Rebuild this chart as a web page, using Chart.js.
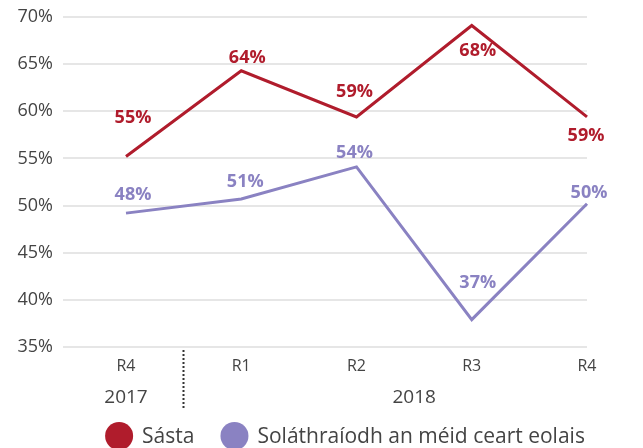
<!DOCTYPE html>
<html>
<head>
<meta charset="utf-8">
<script src="https://cdn.jsdelivr.net/npm/chart.js@4"></script>
<style>
    html, body { margin: 0; padding: 0; background: #fff; }
    #wrap { width: 643px; height: 448px; }
</style>
</head>
<body>
<div id="wrap"><canvas id="chart"></canvas></div>
<script>
// Quarters and the year each group belongs to
const QUARTERS = ['R4', 'R1', 'R2', 'R3', 'R4'];
const YEARS = [
    { label: '2017', from: 0, to: 0 },
    { label: '2018', from: 1, to: 4 }
];

const SERIES_NAMES = ['Sásta', 'Soláthraíodh an méid ceart eolais'];
const SASTA = [55.2, 64.3, 59.4, 69.1, 59.4];
const SOLATHRAIODH = [49.2, 50.7, 54.1, 37.9, 50.2];
// Printed labels, as shown on the chart
const SASTA_LABELS = [55, 64, 59, 68, 59];
const SOLATHRAIODH_LABELS = [48, 51, 54, 37, 50];

const Y_TICKS = [35, 40, 45, 50, 55, 60, 65, 70];

const RED = '#b01c2c';
const PURPLE = '#8a82c2';
const TEXT = '#444';
const FONT = "'Open Sans', 'Noto Sans', sans-serif";

// label offsets (dx, dy) from each point, per dataset
const LABEL_OFFSETS = [
    [[7, -39], [6, -13], [-2, -25], [6, 25], [-1, 19]],
    [[7, -18], [4, -17], [-2, -14], [6, -37], [2, -11]]
];

const pointLabels = {
    id: 'pointLabels',
    afterDatasetsDraw(chart) {
        const ctx = chart.ctx;
        const printed = [SASTA_LABELS, SOLATHRAIODH_LABELS];
        ctx.save();
        ctx.font = `bold 18px ${FONT}`;
        ctx.textAlign = 'center';
        ctx.textBaseline = 'middle';
        chart.data.datasets.forEach((ds, di) => {
            const meta = chart.getDatasetMeta(di);
            ctx.fillStyle = ds.borderColor;
            meta.data.forEach((pt, i) => {
                const [dx, dy] = LABEL_OFFSETS[di][i];
                ctx.fillText(printed[di][i] + '%', pt.x + dx, pt.y + dy);
            });
        });
        ctx.restore();
    }
};

const yearAxis = {
    id: 'yearAxis',
    afterDraw(chart) {
        const ctx = chart.ctx;
        const x = chart.scales.x;
        const bottom = chart.chartArea.bottom;
        ctx.save();
        ctx.font = `19px ${FONT}`;
        ctx.fillStyle = TEXT;
        ctx.textAlign = 'center';
        ctx.textBaseline = 'middle';
        YEARS.forEach(y => {
            const cx = (x.getPixelForValue(y.from) + x.getPixelForValue(y.to)) / 2;
            ctx.fillText(y.label, cx, bottom + 51);
        });
        // dotted separator between the years
        const sx = Math.round((x.getPixelForValue(0) + x.getPixelForValue(1)) / 2) - 0.5;
        ctx.strokeStyle = '#333';
        ctx.lineWidth = 2;
        ctx.setLineDash([2, 2]);
        ctx.beginPath();
        ctx.moveTo(sx, bottom + 3);
        ctx.lineTo(sx, bottom + 62);
        ctx.stroke();
        ctx.restore();
    }
};

// legend drawn by hand so the spacing matches
const bottomLegend = {
    id: 'bottomLegend',
    afterDraw(chart) {
        const ctx = chart.ctx;
        const colors = [RED, PURPLE];
        const r = 14, gap = 9, between = 26;
        ctx.save();
        ctx.font = `21px ${FONT}`;
        ctx.textBaseline = 'middle';
        const widths = SERIES_NAMES.map(n => ctx.measureText(n).width);
        const total = widths.reduce((s, w) => s + 2 * r + gap + w, 0) + between;
        let x = 345 - total / 2;
        const cy = 436;
        SERIES_NAMES.forEach((name, i) => {
            ctx.fillStyle = colors[i];
            ctx.beginPath();
            ctx.arc(x + r, cy, r, 0, Math.PI * 2);
            ctx.fill();
            ctx.fillStyle = TEXT;
            ctx.fillText(name, x + 2 * r + gap, cy + 1);
            x += 2 * r + gap + widths[i] + between;
        });
        ctx.restore();
    }
};

new Chart(document.getElementById('chart'), {
    type: 'line',
    data: {
        labels: QUARTERS,
        datasets: [
            {
                label: SERIES_NAMES[0],
                data: SASTA,
                borderColor: RED,
                backgroundColor: RED,
                borderWidth: 3,
                pointRadius: 0,
                tension: 0
            },
            {
                label: SERIES_NAMES[1],
                data: SOLATHRAIODH,
                borderColor: PURPLE,
                backgroundColor: PURPLE,
                borderWidth: 3,
                pointRadius: 0,
                tension: 0
            }
        ]
    },
    options: {
        responsive: true,
        maintainAspectRatio: false,
        animation: false,
        layout: { padding: { top: 17, right: 56, left: 0, bottom: 0 } },
        plugins: {
            tooltip: { enabled: false },
            legend: { display: false }
        },
        scales: {
            x: {
                offset: false,
                grid: { display: false, drawTicks: false },
                border: { display: false },
                ticks: {
                    color: TEXT,
                    font: { family: FONT, size: 16 },
                    padding: 10
                },
                afterFit(scale) { scale.height = 101; }
            },
            y: {
                min: 35,
                max: 70,
                afterBuildTicks(scale) { scale.ticks = Y_TICKS.map(v => ({ value: v })); },
                grid: { color: '#e6e6e6', lineWidth: 2, tickLength: 63 },
                border: { display: false },
                ticks: {
                    color: TEXT,
                    font: { family: FONT, size: 18 },
                    padding: 10,
                    callback: v => v + '%'
                },
                afterFit(scale) {
                    scale.width = 126;
                    scale.paddingTop = 0;
                    scale.paddingBottom = 0;
                }
            }
        }
    },
    plugins: [pointLabels, yearAxis, bottomLegend]
});
</script>
</body>
</html>
